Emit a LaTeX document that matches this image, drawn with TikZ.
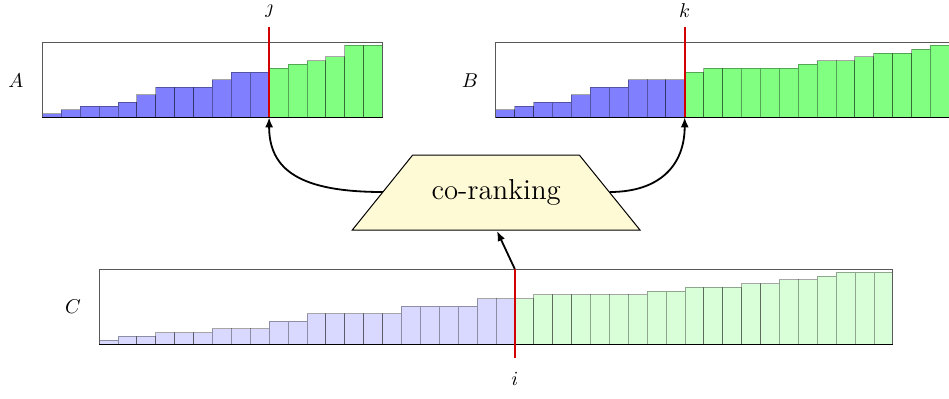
\documentclass[tikz,border=0pt]{standalone}
\usetikzlibrary{arrows.meta}
\definecolor{trapfill}{RGB}{255,250,214}
\definecolor{redline}{RGB}{210,0,0}
\begin{document}
\begin{tikzpicture}[x=0.5pt,y=-0.5pt,
  frame/.style={draw=black!65,line width=0.4pt},
  baseln/.style={draw=black,line width=0.5pt},
  bar/.style={draw=black,draw opacity=0.35,line width=0.4pt},
  bluebar/.style={bar,fill=blue!50},
  greenbar/.style={bar,fill=green!50},
  lbluebar/.style={bar,fill=blue!15},
  lgreenbar/.style={bar,fill=green!15},
  splitline/.style={draw=redline,line width=1pt},
  conn/.style={draw=black,line width=0.9pt,-{Latex[length=5pt,width=4pt]}},
  lbl/.style={inner sep=0pt,anchor=base},
  trap/.style={draw=black,line width=0.5pt,fill=trapfill},
]
\useasboundingbox (0,0) rectangle (949,398);
\def\barw{18.9}
\def\unith{3.78}
% ---------- array A ----------
\foreach \v [count=\n from 0] in {1,2,3,3,4,6,8,8,8,10,12,12}
  \path[bluebar] (42.3+\n*\barw,117.3) rectangle ++(\barw,-\v*\unith);
\foreach \v [count=\n from 12] in {13,14,15,16,19,19}
  \path[greenbar] (42.3+\n*\barw,117.3) rectangle ++(\barw,-\v*\unith);
\path[frame] (42.3,42.3) rectangle (382.5,117.3);
\draw[baseln] (42.3,117.3) -- (382.5,117.3);
\coordinate (jtop) at (269.1,26.7);
\coordinate (jbot) at (269.1,117.3);
\draw[splitline] (jtop) -- (jbot);
% ---------- array B ----------
\foreach \v [count=\n from 0] in {2,3,4,4,6,8,8,10,10,10}
  \path[bluebar] (495.7+\n*\barw,117.3) rectangle ++(\barw,-\v*\unith);
\foreach \v [count=\n from 10] in {12,13,13,13,13,13,14,15,15,16,17,17,18,19}
  \path[greenbar] (495.7+\n*\barw,117.3) rectangle ++(\barw,-\v*\unith);
\path[frame] (495.7,42.3) rectangle (949.3,117.3);
\draw[baseln] (495.7,117.3) -- (949.3,117.3);
\coordinate (ktop) at (684.7,26.7);
\coordinate (kbot) at (684.7,117.3);
\draw[splitline] (ktop) -- (kbot);
% ---------- array C ----------
\foreach \v [count=\n from 0] in {1,2,2,3,3,3,4,4,4,6,6,8,8,8,8,8,10,10,10,10,12,12}
  \path[lbluebar] (99+\n*\barw,344) rectangle ++(\barw,-\v*\unith);
\foreach \v [count=\n from 22] in {12,13,13,13,13,13,13,14,14,15,15,15,16,16,17,17,18,19,19,19}
  \path[lgreenbar] (99+\n*\barw,344) rectangle ++(\barw,-\v*\unith);
\path[frame] (99,269) rectangle (892.8,344);
\draw[baseln] (99,344) -- (892.8,344);
\coordinate (ctop) at (514.8,269);
\coordinate (cbot) at (514.8,358);
\draw[splitline] (ctop) -- (cbot);
% ---------- labels ----------
\node[lbl] (jlab) at (269.1,13.5) {$\jmath$};
\node[lbl] (klab) at (684.7,17) {$k$};
\node[lbl] (ilab) at (514.8,385) {$i$};
\node[lbl] (Alab) at (16,87) {$A$};
\node[lbl] (Blab) at (470,87) {$B$};
\node[lbl] (Clab) at (73,313) {$C$};
% ---------- co-ranking ----------
\path[trap] (412.7,155) -- (579.3,155) -- (640,230) -- (352.3,230) -- cycle;
\node[font=\Large,inner sep=0pt] (cr) at (496.2,192.5) {co-ranking};
\coordinate (crL) at (382.9,192);
\coordinate (crR) at (609.6,192);
\coordinate (crB) at (497,231);
% ---------- connectors ----------
\draw[conn] (crL) .. controls (300,192) and (269.1,170) .. (jbot);
\draw[conn] (crR) .. controls (660,192) and (684.7,165) .. (kbot);
\draw[conn] (ctop) -- (crB);
\end{tikzpicture}
\end{document}
